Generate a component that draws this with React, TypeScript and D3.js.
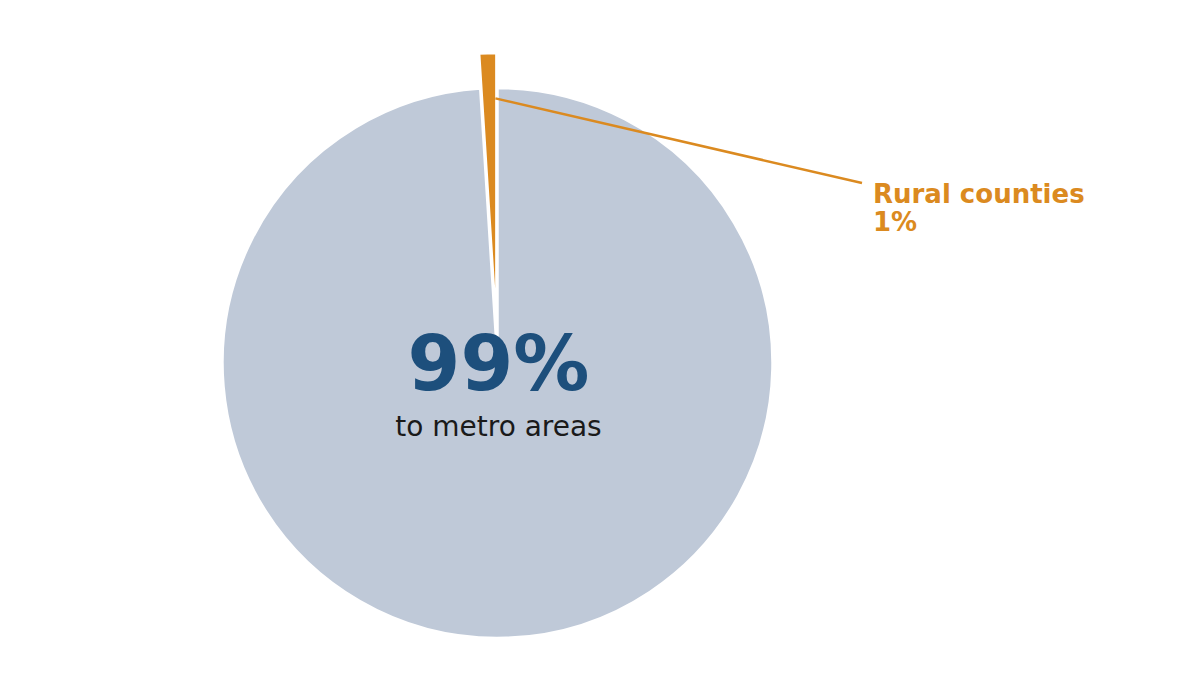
import { useEffect, useRef } from 'react';
import * as d3 from 'd3';

// shares of the total
const categories = ['Metro areas', 'Rural counties'];
const shares = [99, 1];
const valueLabels = ['99%', '1%'];
const metroCaption = 'to metro areas';

const colors = ['#bfc9d8', '#db8a20'];
const font = "'DejaVu Sans', Verdana, sans-serif";

export default function App() {
  const svgRef = useRef<SVGSVGElement>(null);

  useEffect(() => {
    if (!svgRef.current) return;
    const width = 1200;
    const height = 675;
    const cx = 497.5;
    const cy = 363;
    const radius = 275;
    const explode = 35;

    const svg = d3.select(svgRef.current);
    svg.selectAll('*').remove();
    svg.attr('width', width).attr('height', height);

    const data = categories.map((c, i) => ({ name: c, value: shares[i] }));
    const pie = d3
      .pie<{ name: string; value: number }>()
      .sort(null)
      .value((d) => d.value)
      .startAngle(0)
      .endAngle(2 * Math.PI);
    const arcs = pie(data);
    const arc = d3
      .arc<d3.PieArcDatum<{ name: string; value: number }>>()
      .innerRadius(0)
      .outerRadius(radius);

    const g = svg.append('g').attr('transform', `translate(${cx},${cy})`);

    const offsetOf = (a: d3.PieArcDatum<any>, i: number) => {
      if (i === 0) return [0, 0];
      const mid = (a.startAngle + a.endAngle) / 2;
      return [Math.sin(mid) * explode, -Math.cos(mid) * explode];
    };

    arcs.forEach((a, i) => {
      const [dx, dy] = offsetOf(a, i);
      g.append('path')
        .attr('transform', `translate(${dx},${dy})`)
        .attr('d', arc(a) as string)
        .attr('fill', colors[i])
        .attr('stroke', '#ffffff')
        .attr('stroke-width', 2.5)
        .attr('stroke-linejoin', 'round');
    });

    // leader line from the rural wedge to its label
    const rural = arcs[1];
    const [rdx, rdy] = offsetOf(rural, 1);
    const anchorR = radius * 0.835;
    const ax = cx + rdx + Math.sin(rural.endAngle) * anchorR - 1;
    const ay = cy + rdy - Math.cos(rural.endAngle) * anchorR;
    const labelX = 873;
    const labelY = 203;

    svg
      .append('line')
      .attr('x1', ax)
      .attr('y1', ay)
      .attr('x2', labelX - 11)
      .attr('y2', labelY - 20)
      .attr('stroke', colors[1])
      .attr('stroke-width', 2.5);

    const ruralText = svg
      .append('text')
      .attr('x', labelX)
      .attr('y', labelY)
      .attr('font-family', font)
      .attr('font-weight', 'bold')
      .attr('font-size', 26)
      .attr('fill', colors[1]);
    ruralText.append('tspan').attr('x', labelX).text(categories[1]);
    ruralText.append('tspan').attr('x', labelX).attr('dy', 27.5).text(valueLabels[1]);

    // centre labels for the metro share
    svg
      .append('text')
      .attr('x', cx + 1)
      .attr('y', 390)
      .attr('text-anchor', 'middle')
      .attr('font-family', font)
      .attr('font-weight', 'bold')
      .attr('font-size', 76)
      .attr('fill', '#1d4f7c')
      .text(valueLabels[0]);

    svg
      .append('text')
      .attr('x', cx + 1)
      .attr('y', 436)
      .attr('text-anchor', 'middle')
      .attr('font-family', font)
      .attr('font-size', 28)
      .attr('fill', '#1a1a1a')
      .text(metroCaption);
  }, []);

  return (
    <svg
      ref={svgRef}
      style={{ position: 'absolute', left: 0, top: 0, background: '#ffffff' }}
    ></svg>
  );
}
